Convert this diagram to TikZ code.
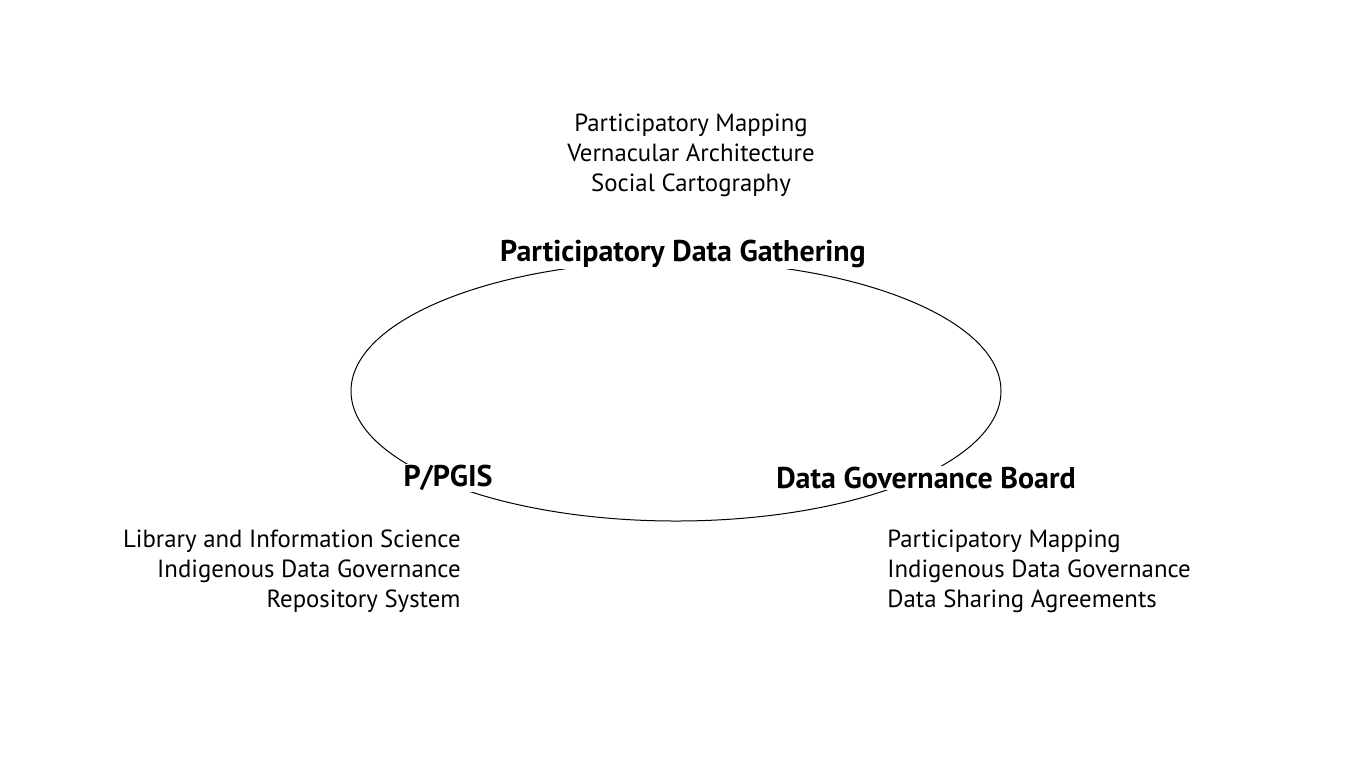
\documentclass[tikz,border=0pt]{standalone}
\usepackage{fontspec}
\setmainfont{PT Sans}
\usepackage{tikz}
\usetikzlibrary{positioning,shapes.geometric}

\begin{document}
\begin{tikzpicture}[x=0.5pt,y=-0.5pt]
\tikzset{
  phase/.style={fill=white,inner xsep=2pt,inner ysep=0.5pt,font=\fontsize{15}{18}\selectfont\bfseries},
  topics/.style={inner sep=0pt,font=\fontsize{12.4}{15}\selectfont}
}
\useasboundingbox (0,0) rectangle (1366,768);

\node[draw,ellipse,line width=0.5pt,inner sep=0pt,minimum width=325pt,minimum height=130pt] (ring) at (676,391) {};

\node[phase] (gather) at (683,254) {Participatory Data Gathering};
\node[phase] (ppgis) at (448,478) {P/PGIS};
\node[phase] (board) at (926,478) {Data Governance Board};

\node[topics,align=center] (gathertopics) at (691,155) {
  Participatory Mapping\\Vernacular Architecture\\Social Cartography
};
\node[topics,align=right,anchor=east] (ppgistopics) at (461,571) {
  Library and Information Science\\Indigenous Data Governance\\Repository System
};
\node[topics,align=left,anchor=west] (boardtopics) at (887,571) {
  Participatory Mapping\\Indigenous Data Governance\\Data Sharing Agreements
};
\end{tikzpicture}
\end{document}
